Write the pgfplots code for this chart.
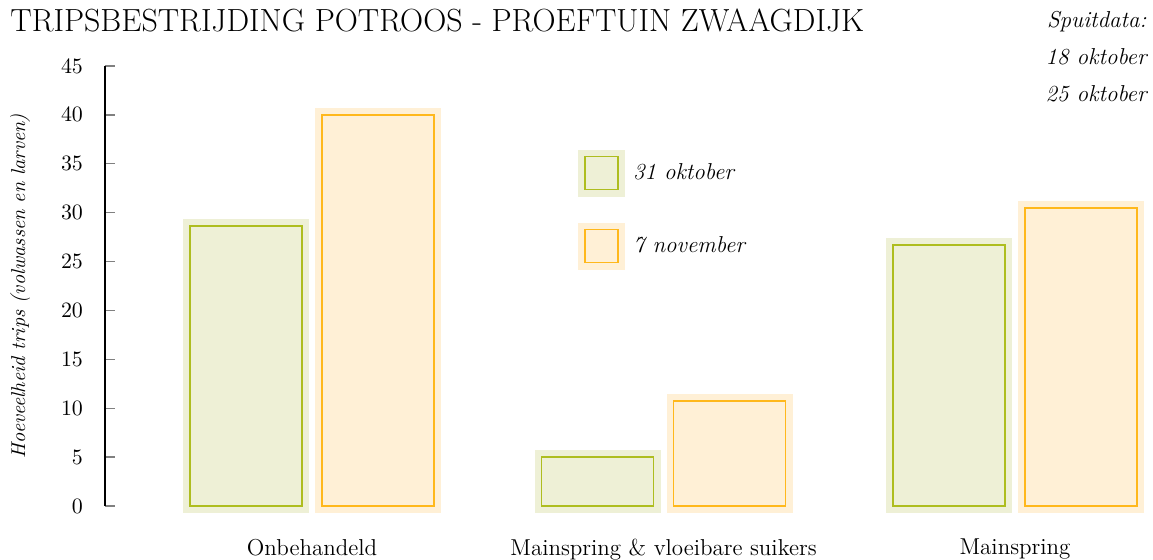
\documentclass[border=0pt]{standalone}
\usepackage{pgfplots}
\pgfplotsset{compat=1.18}

\definecolor{gline}{HTML}{AEBD1F}
\definecolor{gfill}{HTML}{EEF0D6}
\definecolor{oline}{HTML}{FFB81C}
\definecolor{ofill}{HTML}{FFF0D6}

\begin{document}
\begin{tikzpicture}
\begin{axis}[
    name=ax,
    scale only axis,
    width=522.5pt, height=220pt,
    xmin=-0.589, xmax=2.384,
    ymin=0, ymax=45,
    clip=false,
    axis y line*=left,
    axis x line*=bottom,
    x axis line style={draw=none},
    y axis line style={line width=0.65pt},
    xtick={0,1,2},
    xticklabels={Onbehandeld, Mainspring \& vloeibare suikers, Mainspring},
    xtick style={draw=none},
    ytick={0,5,...,45},
    tick align=inside,
    major tick length=5pt,
    ytick style={line width=0.65pt},
    yticklabel style={font=\fontsize{11}{13}\selectfont, xshift=-7.5pt},
    xticklabel style={font=\fontsize{11.5}{14}\selectfont, yshift=-13pt},
    ylabel={\textit{Hoeveelheid trips (volwassen en larven)}},
    ylabel style={at={(axis description cs:-0.0813,0.5)}, anchor=center, font=\fontsize{10}{12}\selectfont},
    legend style={draw=none, fill=none, at={(axis description cs:0.4523,0.811)}, anchor=north west,
        row sep=13pt, font=\fontsize{11.5}{14}\selectfont\itshape, inner sep=0pt},
    legend cell align=left,
    legend image code/.code={\draw[#1] (0pt,-8.25pt) rectangle (16.5pt,8.25pt);},
]
\addplot[ybar, bar width=56pt, bar shift=-33pt, fill=gfill, draw=gline, line width=0.9pt,
    preaction={draw=gfill, line width=7pt}]
    coordinates {(0,28.6) (1,5.0) (2,26.7)};
\addlegendentry{\hspace{2pt}31 oktober}
\addplot[ybar, bar width=56pt, bar shift=33pt, fill=ofill, draw=oline, line width=0.9pt,
    preaction={draw=ofill, line width=7pt}]
    coordinates {(0,40.0) (1,10.7) (2,30.5)};
\addlegendentry{\hspace{2pt}7 november}

\node[anchor=base west, inner sep=0pt, font=\fontsize{16}{19}\selectfont]
    at (axis description cs:-0.0909,1.0773) {TRIPSBESTRIJDING POTROOS - PROEFTUIN ZWAAGDIJK};
\node[anchor=north east, inner sep=0pt, align=right, font=\fontsize{11.5}{18.5}\selectfont\itshape]
    at (axis description cs:0.9971,1.125) {Spuitdata:\\18 oktober\\25 oktober};
\end{axis}
\pgfresetboundingbox
\path ([shift={(-52.5pt,-27pt)}]ax.south west) rectangle ([shift={(524pt,253pt)}]ax.south west);
\end{tikzpicture}
\end{document}
